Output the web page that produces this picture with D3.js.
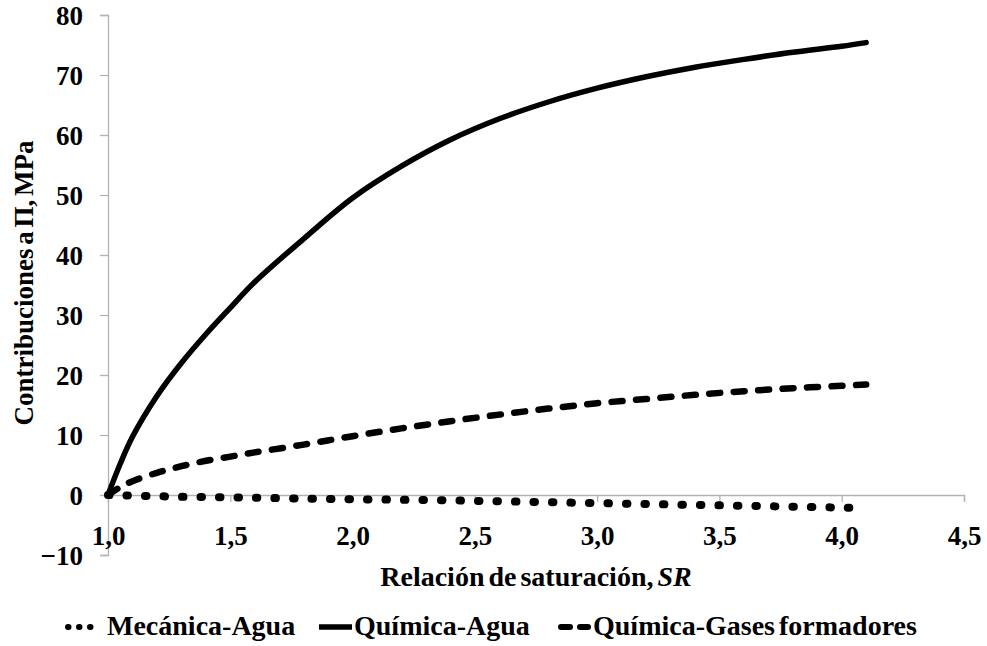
<!DOCTYPE html>
<html>
<head>
<meta charset="utf-8">
<script src="https://cdn.jsdelivr.net/npm/d3@7"></script>
<style>
  body { margin: 0; background: #fff; }
</style>
</head>
<body>
<div id="chart"></div>
<script>
// relación de saturación (x)
const sr = [1.0, 1.05, 1.1, 1.2, 1.3, 1.4, 1.5, 1.6, 1.8, 2.0, 2.2, 2.4, 2.6, 2.8, 3.0, 3.2, 3.4, 3.6, 3.8, 4.0, 4.1];

// contribuciones, MPa
const mecanicaAgua = [0, -0.05, -0.1, -0.2, -0.3, -0.35, -0.4, -0.45, -0.6, -0.7, -0.8, -0.9, -1.05, -1.2, -1.35, -1.5, -1.65, -1.8, -1.95, -2.1, -2.2];
const quimicaAgua  = [0, 5.2, 9.7, 16.5, 22, 26.8, 31.2, 35.5, 42.7, 49.5, 54.8, 59.2, 62.7, 65.5, 67.8, 69.7, 71.3, 72.6, 73.8, 74.8, 75.4];
const quimicaGases = [0, 1.3, 2.3, 3.7, 4.8, 5.7, 6.4, 7.1, 8.4, 9.8, 11.1, 12.3, 13.4, 14.4, 15.3, 16.0, 16.7, 17.3, 17.8, 18.2, 18.4];

const xTicks = [1.0, 1.5, 2.0, 2.5, 3.0, 3.5, 4.0, 4.5];
const yTicks = [-10, 0, 10, 20, 30, 40, 50, 60, 70, 80];

const seriesNames = ["Mecánica-Agua", "Química-Agua", "Química-Gases formadores"];

const width = 987, height = 646;
const font = "'Liberation Serif', 'Times New Roman', 'DejaVu Serif', serif";
const fmt = d => d3.format(".1f")(d).replace(".", ",");

const svg = d3.select("#chart").append("svg")
  .attr("width", width)
  .attr("height", height)
  .attr("font-family", font)
  .attr("font-weight", "bold");

// scales
const x = d3.scaleLinear().domain([1.0, 4.5]).range([108, 964]);
const y = d3.scaleLinear().domain([-10, 80]).range([555, 15]);

const axisColor = "#b3b3b3";

function styleText(sel, size) {
  sel.style("font-family", font)
    .style("font-weight", "bold")
    .style("font-size", size + "px")
    .attr("fill", "#000");
}

// y axis
const yAxis = svg.append("g")
  .attr("transform", "translate(" + x(1.0) + ",0)")
  .call(d3.axisLeft(y).tickValues(yTicks).tickSize(8).tickPadding(17).tickFormat(d3.format("d")));
yAxis.select(".domain").attr("stroke", axisColor).attr("stroke-width", 1.3);
yAxis.selectAll(".tick line").attr("stroke", axisColor).attr("stroke-width", 1.3);
yAxis.selectAll(".tick text").call(styleText, 27).attr("dy", "0.34em");

// x axis, crosses at y = 0
const xAxis = svg.append("g")
  .attr("transform", "translate(0," + y(0) + ")")
  .call(d3.axisBottom(x).tickValues(xTicks).tickSize(7).tickPadding(0).tickFormat(fmt));
xAxis.select(".domain").attr("stroke", axisColor).attr("stroke-width", 1.3);
xAxis.selectAll(".tick line").attr("stroke", axisColor).attr("stroke-width", 1.3);
xAxis.selectAll(".tick text").call(styleText, 27).attr("y", 50).attr("dy", 0);

// axis titles
const xTitle = svg.append("text")
  .attr("x", 536).attr("y", 586)
  .attr("text-anchor", "middle")
  .call(styleText, 28)
  .style("word-spacing", "-3px")
  .text("Relación de saturación, ");
xTitle.append("tspan").style("font-style", "italic").text("SR");

svg.append("text")
  .attr("transform", "translate(33,283) rotate(-90)")
  .attr("text-anchor", "middle")
  .call(styleText, 27)
  .style("word-spacing", "-3px")
  .text("Contribuciones a Π, MPa");

// lines
const line = vals => d3.line()
  .x((d, i) => x(sr[i]))
  .y(d => y(d))
  .curve(d3.curveCatmullRom.alpha(0.5))(vals);

const styles = [
  { data: mecanicaAgua, dash: "1.5,17", w: 8 },
  { data: quimicaAgua, dash: null, w: 5.5 },
  { data: quimicaGases, dash: "11,13.5", w: 6.5 }
];

const plot = svg.append("g");
styles.forEach(s => {
  plot.append("path")
    .attr("d", line(s.data))
    .attr("fill", "none")
    .attr("stroke", "#000")
    .attr("stroke-width", s.w)
    .attr("stroke-linecap", "round")
    .attr("stroke-dasharray", s.dash);
});

// legend
const legendItems = [
  { name: seriesNames[0], x1: 68, x2: 91, dash: "0.5,10.5", w: 6, tx: 107 },
  { name: seriesNames[1], x1: 319, x2: 352, dash: null, w: 5.5, tx: 354 },
  { name: seriesNames[2], x1: 561, x2: 588, dash: "9,10", w: 6, tx: 593 }
];
const legend = svg.append("g");
legendItems.forEach(it => {
  legend.append("line")
    .attr("x1", it.x1).attr("x2", it.x2)
    .attr("y1", 627).attr("y2", 627)
    .attr("stroke", "#000")
    .attr("stroke-width", it.w)
    .attr("stroke-linecap", it.dash ? "round" : "butt")
    .attr("stroke-dasharray", it.dash);
  legend.append("text")
    .attr("x", it.tx).attr("y", 635)
    .call(styleText, 28)
    .style("word-spacing", "-3px")
    .text(it.name);
});
</script>
</body>
</html>
